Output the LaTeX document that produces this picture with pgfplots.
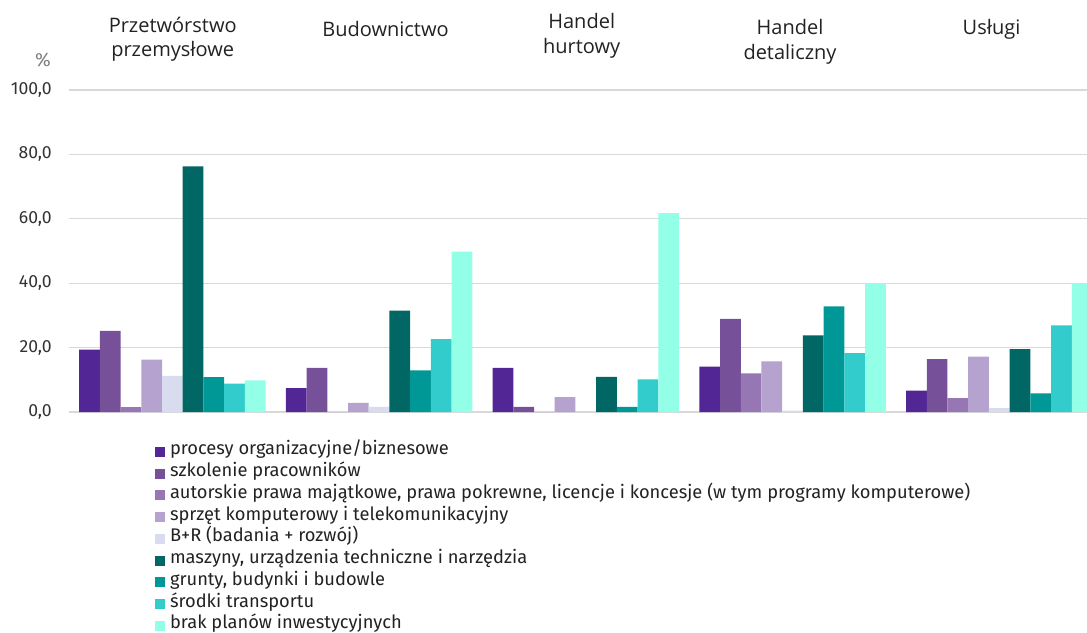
\documentclass[border=0pt]{standalone}
\usepackage{fontspec}
\setmainfont{Fira Sans}
\newfontfamily\titlefont{Open Sans}
\usepackage{pgfplots}
\pgfplotsset{compat=1.18}
\definecolor{c1}{RGB}{82,38,148}
\definecolor{c2}{RGB}{118,80,153}
\definecolor{c3}{RGB}{150,119,180}
\definecolor{c4}{RGB}{181,162,206}
\definecolor{c5}{RGB}{217,219,239}
\definecolor{c6}{RGB}{0,103,100}
\definecolor{c7}{RGB}{0,152,150}
\definecolor{c8}{RGB}{51,204,204}
\definecolor{c9}{RGB}{147,255,230}
\definecolor{gridgray}{RGB}{217,217,217}
\definecolor{ticktext}{RGB}{51,51,51}
\definecolor{txt}{RGB}{34,34,34}
\begin{document}
\begin{tikzpicture}[x=1pt,y=1pt]
\begin{axis}[
  at={(69pt,220pt)}, anchor=south west,
  scale only axis, width=1018pt, height=322pt,
  xmin=-0.5, xmax=4.424, ymin=0, ymax=100,
  ybar=0pt, bar width=20.74pt,
  axis line style={draw=none},
  xtick=\empty,
  ytick={0,20,40,60,80,100},
  major tick length=0pt,
  ymajorgrids, grid style={gridgray, line width=1.3pt},
  /pgf/number format/.cd, fixed, fixed zerofill, precision=1, use comma, assume math mode=true,
  /pgfplots/.cd,
  yticklabel style={anchor=east, inner sep=0pt, xshift=-17pt, font=\fontsize{17.6}{20}\selectfont, text=ticktext},
  legend style={at={(axis description cs:0.0845,-0.090)}, anchor=north west, draw=none, fill=none,
    inner sep=0pt, outer sep=0pt, column sep=5pt, row sep=0pt,
    font=\fontsize{18.3}{21}\selectfont, text=txt,
    nodes={inner sep=0pt, text height=14pt, text depth=7.75pt}},
  legend cell align=left,
  legend image code/.code={\fill[#1] (0pt,-5pt) rectangle (10pt,5pt);},
  every axis plot/.append style={draw=none},
]
\addplot[fill=c1] coordinates {(0,19.4) (1,7.4) (2,13.7) (3,14.1) (4,6.6)};
\addplot[fill=c2] coordinates {(0,25.2) (1,13.7) (2,1.6) (3,28.9) (4,16.4)};
\addplot[fill=c3] coordinates {(0,1.5) (1,0) (2,0) (3,12.0) (4,4.3)};
\addplot[fill=c4] coordinates {(0,16.3) (1,2.8) (2,4.6) (3,15.7) (4,17.2)};
\addplot[fill=c5] coordinates {(0,11.2) (1,1.6) (2,0) (3,0.4) (4,1.2)};
\addplot[fill=c6] coordinates {(0,76.3) (1,31.5) (2,10.9) (3,23.8) (4,19.5)};
\addplot[fill=c7] coordinates {(0,10.8) (1,12.9) (2,1.6) (3,32.8) (4,5.8)};
\addplot[fill=c8] coordinates {(0,8.8) (1,22.6) (2,10.1) (3,18.3) (4,26.9)};
\addplot[fill=c9] coordinates {(0,9.8) (1,49.8) (2,61.8) (3,40.0) (4,40.0)};
\legend{procesy organizacyjne/biznesowe,
szkolenie pracowników,
{autorskie prawa majątkowe, prawa pokrewne, licencje i koncesje (w tym programy komputerowe)},
sprzęt komputerowy i telekomunikacyjny,
B+R (badania + rozwój),
{maszyny, urządzenia techniczne i narzędzia},
{grunty, budynki i budowle},
środki transportu,
brak planów inwestycyjnych}
\end{axis}
\begin{scope}[every node/.style={anchor=base, inner sep=0pt, font=\titlefont\fontsize{20}{24}\selectfont, text=txt}]
\node at (172.7,599) {Przetwórstwo};
\node at (172.7,575) {przemysłowe};
\node at (385.5,595) {Budownictwo};
\node at (581.7,603.7) {Handel};
\node at (581.7,578.7) {hurtowy};
\node at (790,597) {Handel};
\node at (790,572) {detaliczny};
\node at (991.5,597) {Usługi};
\end{scope}
\node[anchor=center, inner sep=0pt, font=\fontsize{19}{22}\selectfont, text=gray] at (43,572) {\%};
\pgfresetboundingbox
\path[use as bounding box] (0,0) rectangle (1087,632);
\end{tikzpicture}
\end{document}
